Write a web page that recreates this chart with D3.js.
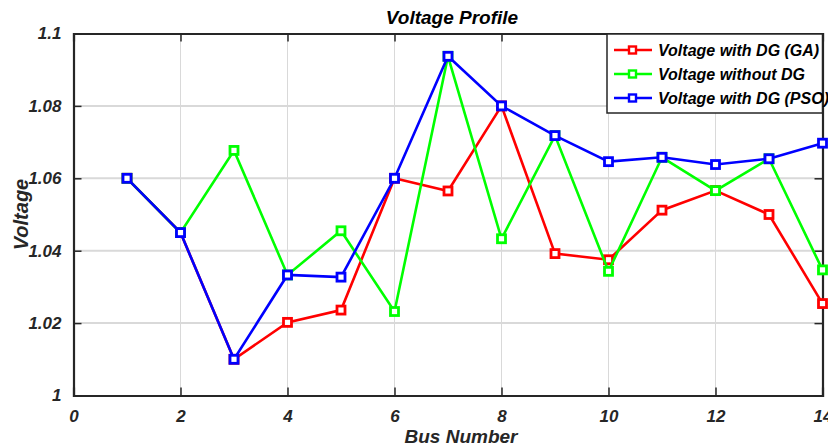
<!DOCTYPE html>
<html>
<head>
<meta charset="utf-8">
<script src="https://cdn.jsdelivr.net/npm/d3@7"></script>
<style>
  body { margin: 0; background: #fff; }
  text { font-family: "Liberation Sans", Arial, sans-serif; font-weight: bold; font-style: italic; }
</style>
</head>
<body>
<div id="chart"></div>
<script>
// bus numbers and voltage series
const buses = [1, 2, 3, 4, 5, 6, 7, 8, 9, 10, 11, 12, 13, 14];
const vGA = [1.060, 1.045, 1.010, 1.0202, 1.0236, 1.060, 1.0565, 1.080, 1.0392, 1.0375, 1.0512, 1.0566, 1.0500, 1.0254];
const vNoDG = [1.060, 1.045, 1.0677, 1.0333, 1.0455, 1.0232, 1.0937, 1.0433, 1.0718, 1.0343, 1.0658, 1.0566, 1.0654, 1.0347];
const vPSO = [1.060, 1.045, 1.010, 1.0333, 1.0327, 1.060, 1.0937, 1.080, 1.0718, 1.0646, 1.0658, 1.0638, 1.0654, 1.0697];
const seriesNames = ["Voltage with DG (GA)", "Voltage without DG", "Voltage with DG (PSO)"];
const seriesColors = ["#ff0000", "#00ff00", "#0000ff"];
const xTicks = [0, 2, 4, 6, 8, 10, 12, 14];
const yTicks = [1, 1.02, 1.04, 1.06, 1.08, 1.1];

const W = 828, H = 448;
const margin = {top: 33.5, right: 5.5, bottom: 52.5, left: 73.5},
      width = W - margin.left - margin.right,
      height = H - margin.top - margin.bottom;
const ink = "#262626";

const svg = d3.select("#chart")
    .append("svg")
    .attr("width", W)
    .attr("height", H);

const g = svg.append("g")
    .attr("transform", `translate(${margin.left}, ${margin.top})`);

const x = d3.scaleLinear().domain([0, 14]).range([0, width]);
const y = d3.scaleLinear().domain([1, 1.1]).range([height, 0]);

// grid
g.append("g").selectAll("line")
    .data(xTicks.slice(1, -1))
    .join("line")
    .attr("x1", d => x(d)).attr("x2", d => x(d))
    .attr("y1", 0).attr("y2", height)
    .attr("stroke", "#d9d9d9").attr("stroke-width", 1);
g.append("g").selectAll("line")
    .data(yTicks.slice(1, -1))
    .join("line")
    .attr("x1", 0).attr("x2", width)
    .attr("y1", d => y(d)).attr("y2", d => y(d))
    .attr("stroke", "#d9d9d9").attr("stroke-width", 2);

// axes, ticks inside on all sides
const fmtY = d => d === 1 ? "1" : d3.format(".2~f")(d);
const axB = g.append("g").attr("transform", `translate(0,${height})`)
    .call(d3.axisBottom(x).tickValues(xTicks).tickSize(-8).tickPadding(16).tickFormat(d3.format("d")));
const axT = g.append("g")
    .call(d3.axisTop(x).tickValues(xTicks).tickSize(-8).tickFormat(""));
const axL = g.append("g")
    .call(d3.axisLeft(y).tickValues(yTicks).tickSize(-8).tickPadding(12).tickFormat(fmtY));
const axR = g.append("g").attr("transform", `translate(${width},0)`)
    .call(d3.axisRight(y).tickValues(yTicks).tickSize(-8).tickFormat(""));

[axB, axT, axL, axR].forEach(a => {
    a.select(".domain").attr("stroke", ink).attr("stroke-width", 2.2);
    a.selectAll(".tick line").attr("stroke", ink).attr("stroke-width", 1.5);
    a.selectAll(".tick text").attr("fill", ink).style("font-size", "17px");
});
axB.selectAll(".tick text").attr("dy", "0.6em");

// series
const allSeries = [vGA, vNoDG, vPSO];
const line = d3.line().x((d, i) => x(buses[i])).y(d => y(d));

allSeries.forEach((vals, k) => {
    g.append("path")
        .datum(vals)
        .attr("fill", "none")
        .attr("stroke", seriesColors[k])
        .attr("stroke-width", 2.6)
        .attr("d", line);
    g.append("g").selectAll("rect")
        .data(vals)
        .join("rect")
        .attr("x", (d, i) => x(buses[i]) - 4)
        .attr("y", d => y(d) - 4)
        .attr("width", 8).attr("height", 8)
        .attr("fill", "#fff")
        .attr("stroke", seriesColors[k])
        .attr("stroke-width", 2.8);
});

// legend
const lg = svg.append("g").attr("transform", "translate(607,34)");
lg.append("rect")
    .attr("width", 215.5).attr("height", 79)
    .attr("fill", "#fff").attr("stroke", ink).attr("stroke-width", 1.5);
seriesNames.forEach((name, k) => {
    const ry = 16 + k * 24;
    lg.append("line").attr("x1", 7).attr("x2", 45).attr("y1", ry).attr("y2", ry)
        .attr("stroke", seriesColors[k]).attr("stroke-width", 2.6);
    lg.append("rect").attr("x", 22).attr("y", ry - 3.5).attr("width", 7).attr("height", 7)
        .attr("fill", "#fff").attr("stroke", seriesColors[k]).attr("stroke-width", 2.4);
    lg.append("text").attr("x", 51).attr("y", ry + 6)
        .style("font-size", "16px").attr("fill", "#000").text(name);
});

// titles
svg.append("text")
    .attr("x", 452).attr("y", 24)
    .attr("text-anchor", "middle").style("font-size", "19px").attr("fill", "#000")
    .text("Voltage Profile");
svg.append("text")
    .attr("x", 461).attr("y", 443)
    .attr("text-anchor", "middle").style("font-size", "19px").attr("fill", ink)
    .text("Bus Number");
svg.append("text")
    .attr("transform", `translate(28,${margin.top + height / 2}) rotate(-90)`)
    .attr("text-anchor", "middle").style("font-size", "20px").attr("fill", ink)
    .text("Voltage");
</script>
</body>
</html>
